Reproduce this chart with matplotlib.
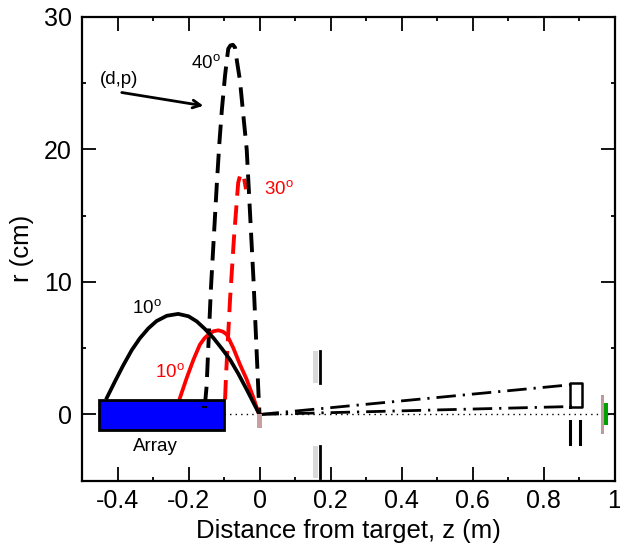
import matplotlib
matplotlib.use('Agg')
import matplotlib.pyplot as plt
from matplotlib.patches import Rectangle

plt.rcParams['font.family'] = ['Liberation Sans', 'DejaVu Sans']
plt.rcParams['mathtext.default'] = 'regular'

# trajectories
z_black10 = [-0.430, -0.407, -0.384, -0.360, -0.337, -0.313, -0.290, -0.261, -0.229, -0.200,
             -0.177, -0.154, -0.130, -0.106, -0.083, -0.060, -0.036, -0.017, -0.003, 0]
r_black10 = [1.26, 2.5, 3.7, 4.85, 5.75, 6.5, 7.05, 7.45, 7.59, 7.41,
             7.03, 6.46, 5.78, 4.97, 4.14, 3.09, 1.88, 0.88, 0.15, 0]
z_red10 = [-0.224, -0.205, -0.186, -0.168, -0.155, -0.144, -0.130, -0.116, -0.103, -0.092,
           -0.074, -0.055, -0.036, -0.017, -0.003, 0]
r_red10 = [1.26, 2.76, 4.14, 5.27, 5.75, 6.03, 6.28, 6.35, 6.25, 6.03,
           5.03, 3.77, 2.64, 1.26, 0.13, 0]
z_red30 = [-0.097, -0.094, -0.083, -0.072, -0.060, -0.055, -0.050, -0.044, -0.038]
r_red30 = [1.13, 3.1, 8.67, 13.3, 17.5, 18.0, 18.2, 17.9, 17.0]
z_black40 = [-0.154, -0.149, -0.137, -0.120, -0.113, -0.106, -0.097, -0.092, -0.088, -0.082,
             -0.075, -0.069, -0.064, -0.055, -0.046, -0.036, -0.029, -0.017, -0.003, 0]
r_black40 = [0.63, 2.13, 9.42, 17.5, 20.5, 23.0, 25.6, 26.75, 27.6, 27.85,
             27.9, 27.7, 26.75, 25.2, 22.7, 20.0, 16.4, 10.2, 1.66, 0]
z_beam = [0, 0.88]
r_beam_upper = [0, 2.25]
r_beam_lower = [0, 0.6]

xticks = [-0.4, -0.2, 0, 0.2, 0.4, 0.6, 0.8, 1]
xticklabels = ['-0.4', '-0.2', '0', '0.2', '0.4', '0.6', '0.8', '1']
yticks = [0, 10, 20, 30]

fig = plt.figure(figsize=(6.2, 5.45), dpi=100)
ax = fig.add_axes([82 / 620, 64.3 / 545, 532.5 / 620, 463.7 / 545])

ax.plot([-0.1, 1], [0, 0], color='black', lw=1, ls=(0, (1, 3)), zorder=1)

ax.plot(z_red30, r_red30, color='red', lw=2.8, ls=(0, (5, 2.5)), zorder=2)
ax.plot(z_black40, r_black40, color='black', lw=2.8, ls=(0, (5, 2.5)), zorder=2)
ax.plot(z_red10, r_red10, color='red', lw=2.7, zorder=2.5)
ax.plot(z_black10, r_black10, color='black', lw=2.7, zorder=2.6)

ax.plot(z_beam, r_beam_upper, color='black', lw=2.0, ls=(0, (7, 2.5, 0.8, 2.5)), zorder=2)
ax.plot(z_beam, r_beam_lower, color='black', lw=2.0, ls=(0, (7, 2.5, 0.8, 2.5)), zorder=2)

# array
ax.add_patch(Rectangle((-0.451, -1.15), 0.351, 2.25, fc='blue', ec='black', lw=2, zorder=3))
ax.plot([-0.158, -0.15], [0.6, 0.6], color='black', lw=1.4, zorder=4)

# target
ax.add_patch(Rectangle((-0.007, -1.0), 0.014, 1.0, fc='#c9a0a0', ec='none', zorder=3))

# slits
for r0, r1 in [(2.4, 4.82), (-4.83, -2.39)]:
    ax.add_patch(Rectangle((0.1515, r0), 0.0145, r1 - r0, fc='#d9d9d9', ec='none', zorder=1.5))
    ax.plot([0.170, 0.170], [r0, r1], color='black', lw=2.0, zorder=2)

# detector at 0.9 m
ax.plot([0.875, 0.875, 0.908, 0.908, 0.875], [0.6, 2.34, 2.34, 0.6, 0.6], color='black', lw=1.8, zorder=2)
ax.plot([0.875, 0.875], [-0.5, -2.26], color='black', lw=2.2, zorder=2)
ax.plot([0.903, 0.903], [-0.5, -2.26], color='black', lw=2.2, zorder=2)

# end of beam line
ax.add_patch(Rectangle((0.963, -0.8), 0.019, 1.63, fc='#c8e8c8', ec='none', zorder=2))
ax.add_patch(Rectangle((0.968, -0.8), 0.014, 1.63, fc='#00a000', ec='none', zorder=3))
ax.add_patch(Rectangle((0.962, -1.5), 0.008, 3.0, fc='#c09a9a', ec='none', zorder=4))

ax.text(-0.449, 25.25, '(d,p)', fontsize=13.5, ha='left', va='center')
ax.annotate('', xy=(-0.158, 23.3), xytext=(-0.388, 24.3),
            arrowprops=dict(arrowstyle='->', color='black', lw=2, mutation_scale=14, shrinkA=0, shrinkB=0))
ax.text(-0.193, 26.5, '40$^{o}$', fontsize=13.5, ha='left', va='center')
ax.text(0.013, 17.0, '30$^{o}$', fontsize=13.5, color='red', ha='left', va='center')
ax.text(-0.359, 8.0, '10$^{o}$', fontsize=13.5, ha='left', va='center')
ax.text(-0.294, 3.2, '10$^{o}$', fontsize=13.5, color='red', ha='left', va='center')
ax.text(-0.294, -2.45, 'Array', fontsize=13.5, ha='center', va='center')

ax.set_xlim(-0.5, 1)
ax.set_ylim(-5, 30)
ax.set_xticks(xticks)
ax.set_xticklabels(xticklabels)
ax.set_yticks(yticks)
ax.set_xticks([-0.3, -0.1, 0.1, 0.3, 0.5, 0.7, 0.9], minor=True)
ax.set_yticks([5, 15, 25], minor=True)
ax.tick_params(which='major', direction='in', length=10, width=1.3, top=True, right=True, labelsize=18, pad=6)
ax.tick_params(which='minor', direction='in', length=3, width=1.3, top=True, right=True)
ax.tick_params(axis='y', which='major', pad=7.5)
for spine in ax.spines.values():
    spine.set_linewidth(1.6)

ax.set_xlabel('Distance from target, z (m)', fontsize=18.5, labelpad=4)
ax.set_ylabel('r (cm)', fontsize=18.5, labelpad=7)

fig.savefig('out.png', dpi=100)
